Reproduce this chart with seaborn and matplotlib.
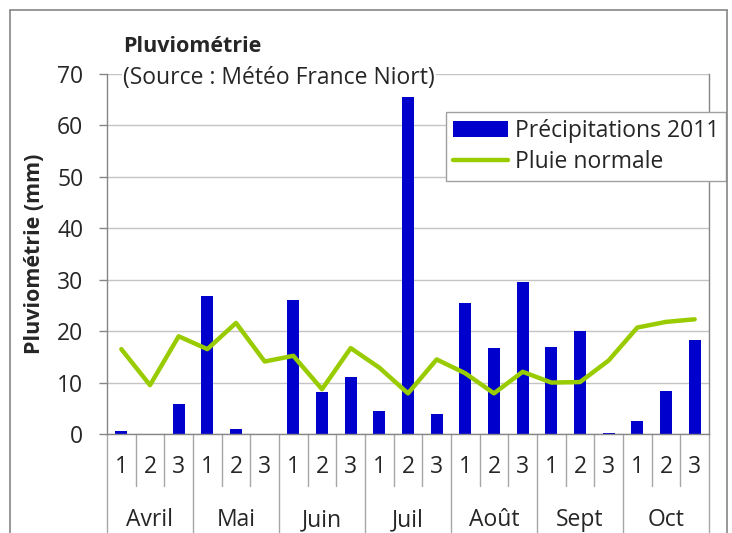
import numpy as np
import pandas as pd
import seaborn as sns
import matplotlib.pyplot as plt
from matplotlib.lines import Line2D

# ______________________________________________________ DATA
months = ['Avril', 'Mai', 'Juin', 'Juil', 'Août', 'Sept', 'Oct']
decades = ['1', '2', '3']
precip_2011 = [0.5, 0.0, 5.8, 26.9, 1.0, 0.0, 26.0, 8.2, 11.1, 4.4, 65.6, 3.8,
               25.4, 16.7, 29.6, 16.9, 20.0, 0.2, 2.6, 8.4, 18.2]
pluie_normale = [16.5, 9.5, 19.0, 16.5, 21.6, 14.1, 15.2, 8.7, 16.7, 12.9, 7.9, 14.5,
                 11.8, 7.9, 12.1, 10.0, 10.1, 14.3, 20.7, 21.8, 22.3]

cats = [m + ' ' + d for m in months for d in decades]
df = pd.DataFrame({'cat': cats, 'pos': np.arange(len(cats)),
                   'precip': precip_2011, 'normale': pluie_normale})

# ______________________________________________________ STYLE
sns.set_style('white')
plt.rcParams['font.family'] = ['Open Sans', 'DejaVu Sans']
FS = 16.5      # regular text
FSB = 15.5     # bold text
GRAY = '#868686'

fig = plt.figure(figsize=(7.32, 5.33), dpi=100)
ax = fig.add_axes([107 / 732, 1 - 434 / 533, 602 / 732, 360 / 533])

sns.barplot(data=df, x='cat', y='precip', color='#0000CC', saturation=1,
            width=0.41, linewidth=0, label='Précipitations 2011', ax=ax, zorder=2)
sns.lineplot(data=df, x='pos', y='normale', color='#99CC00', linewidth=3.2,
             label='Pluie normale', ax=ax, zorder=3, solid_capstyle='round')

ax.set_xlim(-0.5, len(cats) - 0.5)
ax.set_ylim(0, 70)
ax.set_yticks(range(0, 71, 10))
ax.yaxis.grid(True, color='#c4c4c4', linewidth=1)
ax.set_axisbelow(True)
ax.tick_params(axis='y', left=True, length=6, width=1, color=GRAY, pad=11, labelsize=FS)
ax.set_xticks([])
ax.set_xlabel('')
ax.set_ylabel('Pluviométrie (mm)', fontsize=FSB, fontweight='bold')
ax.yaxis.set_label_coords(-0.103, 0.5)
for s in ['left', 'bottom', 'right']:
    ax.spines[s].set_color(GRAY)
    ax.spines[s].set_linewidth(1)
ax.spines['top'].set_visible(False)

# ______________________________________________________ CATEGORY AXIS (2 levels)
tr = ax.get_xaxis_transform()
for i in range(len(cats) + 1):
    x = i - 0.5
    y_end = -0.275 if i % 3 == 0 else -0.144
    ax.add_line(Line2D([x, x], [0, y_end], transform=tr, color='#a6a6a6',
                       linewidth=1, clip_on=False))
for i, c in enumerate(cats):
    ax.text(i, -0.092, c.split(' ')[1], transform=tr, ha='center', va='center',
            fontsize=FS)
for j, m in enumerate(months):
    ax.text(3 * j + 1, -0.239, m, transform=tr, ha='center', va='center', fontsize=FS)

# ______________________________________________________ LEGEND
handles, labels = ax.get_legend_handles_labels()
order = [labels.index('Précipitations 2011'), labels.index('Pluie normale')]
leg = ax.legend([handles[k] for k in order], [labels[k] for k in order], loc='upper right',
                bbox_to_anchor=(726 / 732, 1 - 112 / 533), bbox_transform=fig.transFigure,
                borderaxespad=0, fontsize=FS, frameon=True, fancybox=False,
                framealpha=1, edgecolor='#a0a0a0', handlelength=2.4,
                handletextpad=0.3, borderpad=0.3, labelspacing=0.3)
leg.get_frame().set_linewidth(1)

# ______________________________________________________ TITLE
fig.text(123 / 732, 1 - 47 / 533, 'Pluviométrie', fontsize=FSB, fontweight='bold',
         ha='left', va='center')
fig.text(123 / 732, 1 - 78 / 533, '(Source : Météo France Niort)', fontsize=FS,
         ha='left', va='center',
         bbox=dict(facecolor='white', edgecolor='none', pad=1))

# outer chart frame
fig.add_artist(Line2D([9.5 / 732, 9.5 / 732], [0, 1 - 9.5 / 533], color=GRAY, lw=1.2))
fig.add_artist(Line2D([9.5 / 732, 726.5 / 732], [1 - 9.5 / 533, 1 - 9.5 / 533], color=GRAY, lw=1.2))
fig.add_artist(Line2D([726.5 / 732, 726.5 / 732], [0, 1 - 9.5 / 533], color=GRAY, lw=1.2))

fig.savefig('out.png', dpi=100, facecolor='white')
